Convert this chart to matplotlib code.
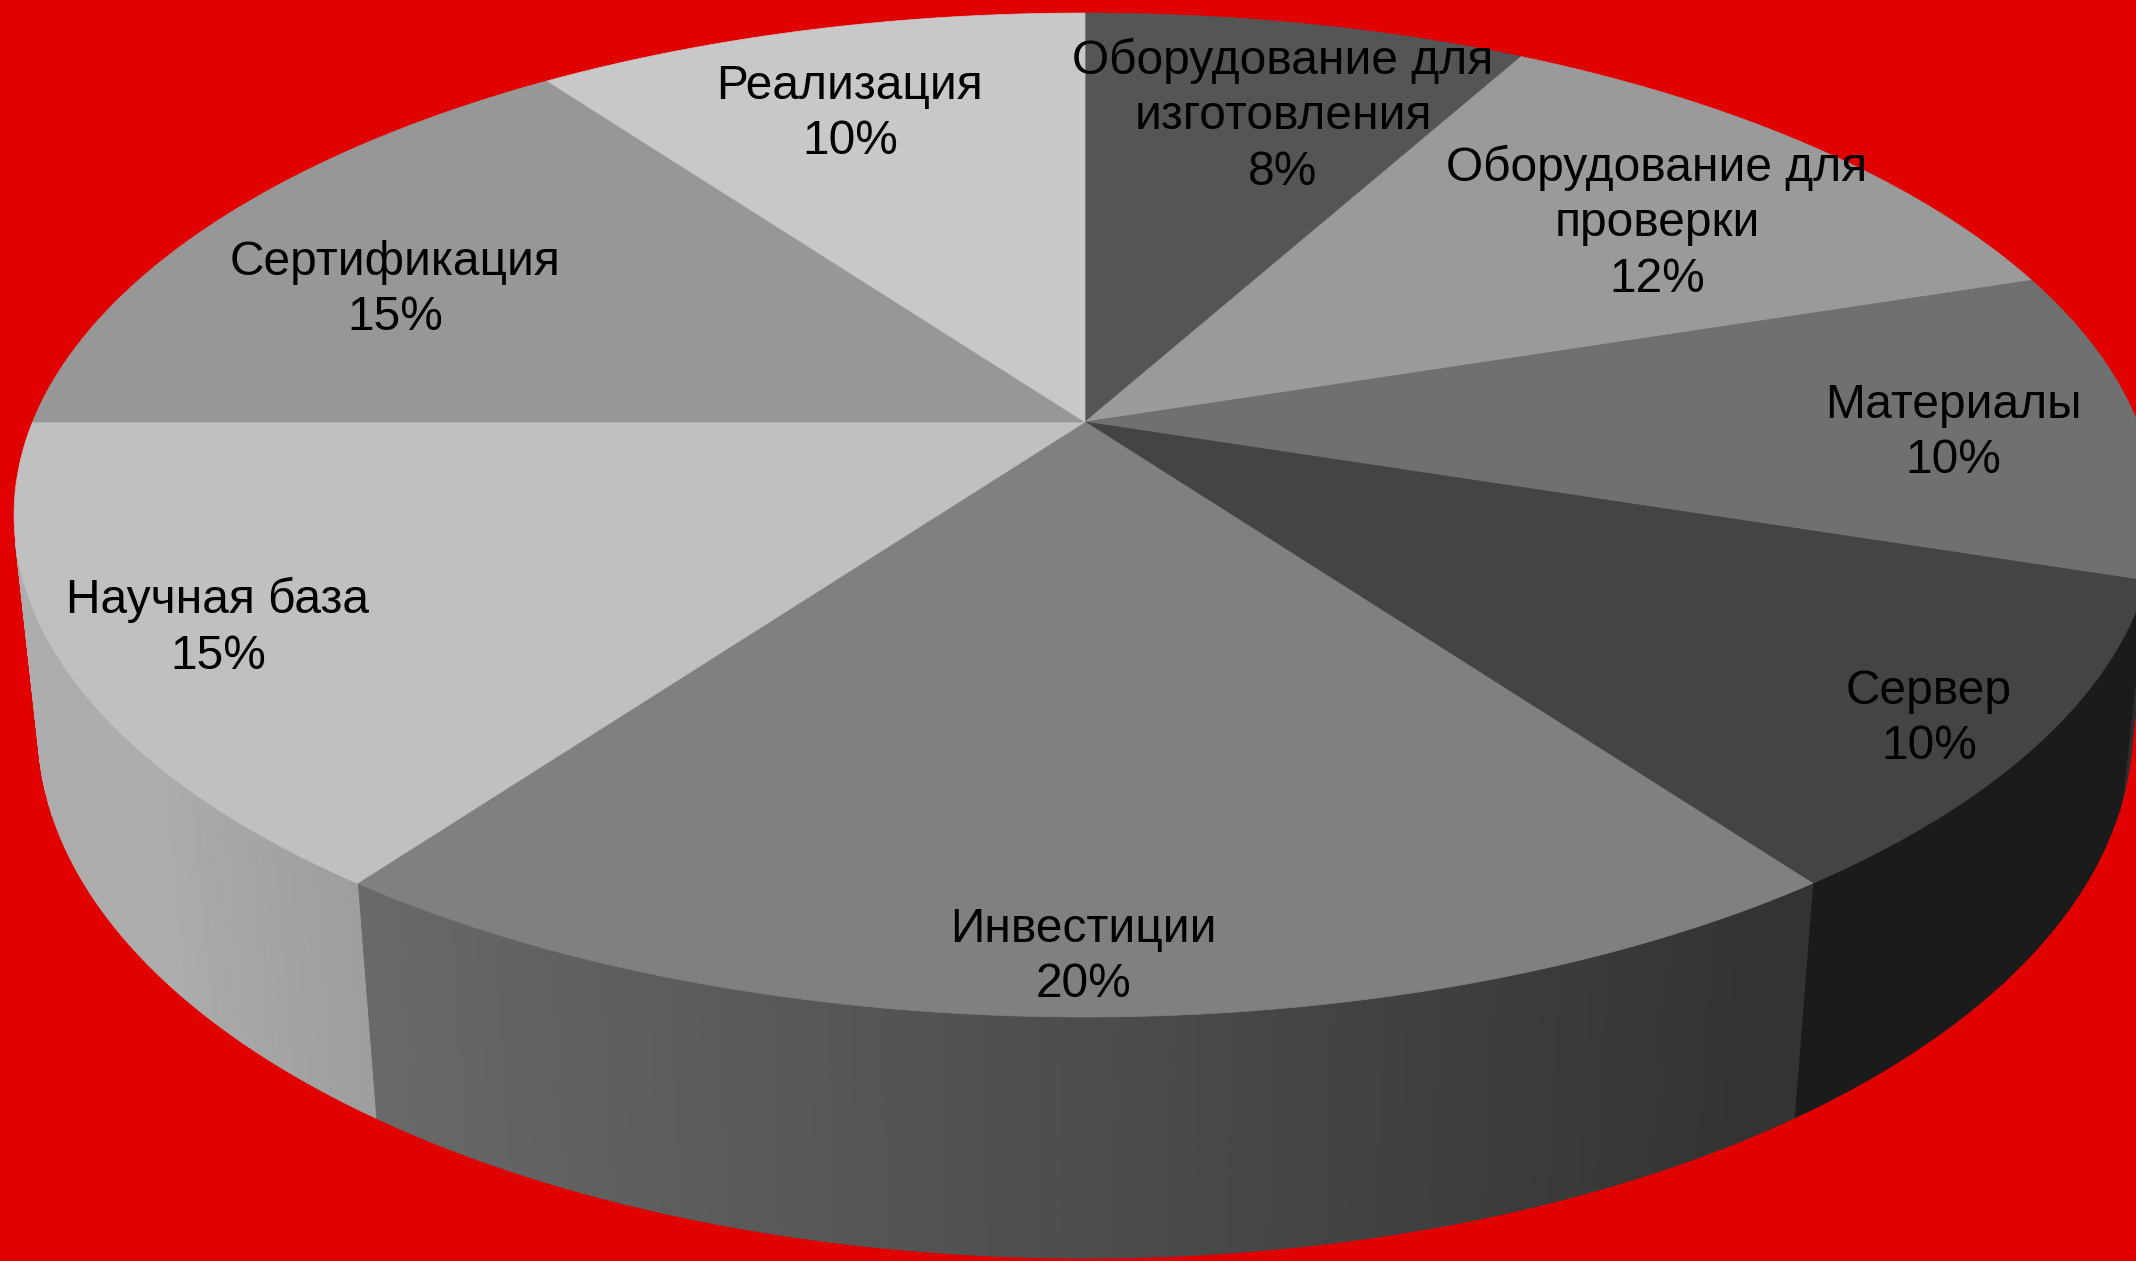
import numpy as np
import matplotlib
matplotlib.use('Agg')
import matplotlib.pyplot as plt
from matplotlib.patches import Polygon

# slices, clockwise from 12 o'clock
labels = ['Оборудование для\nизготовления', 'Оборудование для\nпроверки', 'Материалы', 'Сервер',
          'Инвестиции', 'Научная база', 'Сертификация', 'Реализация']
shares = [8, 12, 10, 10, 20, 15, 15, 10]
top_colors = ['#555555', '#9a9a9a', '#707070', '#444444',
              '#808080', '#c0c0c0', '#979797', '#c8c8c8']

# label anchors in pixels (layout only)
label_pos = [(1283, 116), (1657, 223), (1953, 433), (1929, 719),
             (1083, 957), (218, 628), (395, 290), (850, 114)]

W, H_PX = 2136, 1261
BG = '#e00000'

# simple perspective camera for the 3d pie
X0, Y0 = 1085, 422
SIN_E = 0.4606
COS_E = np.sqrt(1 - SIN_E ** 2)
DC = 4.79
S = 5041
THICK = 0.23


def proj(X, Y, Z):
    depth = DC + Y * COS_E - Z * SIN_E
    px = X0 + S * X / depth
    py = Y0 - S * (Y * SIN_E + Z * COS_E) / depth
    return px, py


def shade(color, th):
    rgb = np.array(matplotlib.colors.to_rgb(color))
    f = min(0.9, max(0.4, 0.6 - 0.38 * np.sin(np.radians(th))))
    return np.clip(rgb * f, 0, 1)


fig = plt.figure(figsize=(W / 100, H_PX / 100), dpi=100)
fig.patch.set_facecolor(BG)
ax = fig.add_axes([0, 0, 1, 1])
ax.set_facecolor(BG)
ax.set_xlim(0, W)
ax.set_ylim(H_PX, 0)
ax.axis('off')

bounds = np.concatenate([[0], np.cumsum(shares)]) / sum(shares) * 360.0

# side wall (only the front facing part is visible)
vis_lo = np.degrees(np.arccos(-1 / (DC * COS_E)))
vis_hi = 360 - vis_lo
for i in range(len(shares)):
    a0, a1 = max(bounds[i], vis_lo), min(bounds[i + 1], vis_hi)
    if a1 <= a0:
        continue
    steps = np.linspace(a0, a1, max(2, int((a1 - a0) * 2) + 1))
    for t0, t1 in zip(steps[:-1], steps[1:]):
        ts = np.radians([t0, t1])
        xs, ys = np.sin(ts), np.cos(ts)
        p_top = [proj(x, y, 0) for x, y in zip(xs, ys)]
        p_bot = [proj(x, y, -THICK) for x, y in zip(xs, ys)]
        c = shade(top_colors[i], (t0 + t1) / 2)
        ax.add_patch(Polygon([p_top[0], p_top[1], p_bot[1], p_bot[0]], closed=True,
                             facecolor=c, edgecolor=c, lw=0.8))

# top faces
for i in range(len(shares)):
    ts = np.radians(np.linspace(bounds[i], bounds[i + 1], 200))
    pts = [proj(0, 0, 0)] + [proj(np.sin(t), np.cos(t), 0) for t in ts]
    ax.add_patch(Polygon(pts, closed=True, facecolor=top_colors[i],
                         edgecolor=top_colors[i], lw=0.5))

for i, (x, y) in enumerate(label_pos):
    ax.text(x, y, f'{labels[i]}\n{shares[i]}%', ha='center', va='center',
            fontsize=34.5, family='Liberation Sans', linespacing=1.3, color='black')

fig.savefig('out.png', dpi=100, facecolor=BG)
